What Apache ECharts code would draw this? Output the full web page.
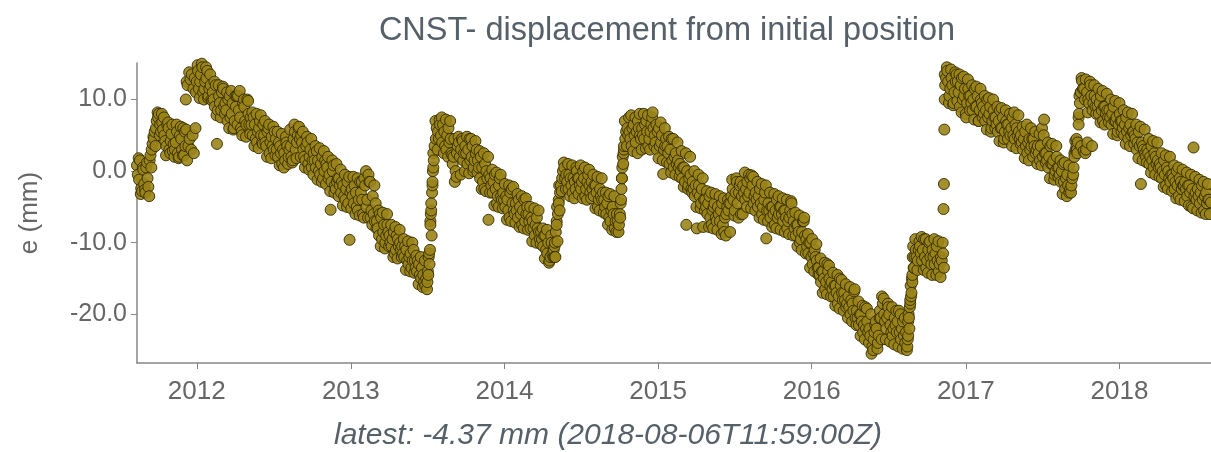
<!DOCTYPE html>
<html><head><meta charset="utf-8">
<script src="https://cdn.jsdelivr.net/npm/echarts@6/dist/echarts.min.js"></script>
<style>html,body{margin:0;padding:0;background:#fff;}#chart{width:1211px;height:452px;}</style>
</head><body><div id="chart"></div>
<script>
const titleText = 'CNST- displacement from initial position';
const yAxisName = 'e (mm)';
const seriesName = 'e';
// regular samples: one value every 5 days (6 values per row ~ 1 month), three interleaved runs
const firstSampleA = [2011, 7, 12];
const firstSampleB = [2011, 7, 14];
const firstSampleC = [2011, 7, 16];
const stepDays = 5;
const eValuesA = [
  0.8, -1.2, -2.4, 0.2, -3.0, -1.0,
  1.5, 3.0, 4.5, 6.0, 7.5, 6.5,
  6.8, 5.0, 3.5, 6.0, 4.2, 2.8,
  3.0, 5.5, 2.0, 4.5, 6.0, 3.5,
  12.0, 4.5, 13.5, 2.5, 11.0, 14.0,
  12.5, 14.5, 11.5, 13.0, 10.5, 12.0,
  11.0, 9.0, 3.8, 10.5, 8.5, 11.5,
  9.5, 7.0, 10.5, 8.0, 6.0, 9.0,
  10.5, 7.5, 5.0, 9.0, 6.5, 8.0,
  7.5, 5.0, 6.5, 4.0, 6.0, 5.0,
  6.5, 4.0, 5.5, 2.5, 4.8, 3.0,
  4.5, 2.0, 3.5, 1.0, 2.5, 4.0,
  2.0, 3.5, 1.5, 5.5, 4.0, 6.2,
  5.0, 3.0, 1.5, 4.0, 2.0, 0.5,
  2.5, 0.5, 1.5, -0.5, 2.0, 0.0,
  1.0, -1.0, -5.4, 0.0, -2.0, -1.5,
  -1.0, -3.0, -2.0, -4.0, -1.5, -9.6,
  -2.5, -4.5, -3.0, -5.5, -1.5, -4.0,
  -1.0, -5.0, -0.5, -6.5, -3.5, -7.0,
  -7.0, -9.0, -6.5, -8.5, -10.0, -7.5,
  -9.0, -10.5, -8.5, -11.0, -9.5, -10.0,
  -10.5, -12.0, -11.0, -13.0, -11.5, -12.5,
  -12.5, -14.0, -13.0, -15.0, -14.5, -16.0,
  -15.5, -13.0, -9.0, 1.5, 4.5, 5.5,
  6.5, 4.0, 5.5, 3.0, 6.0, 4.5,
  1.0, -1.5, 2.5, 4.0, 3.0, 1.5,
  3.5, 1.0, 4.5, 2.0, 0.5, 2.5,
  1.5, -1.0, 0.5, -2.5, 0.0, -6.8,
  -1.0, -3.0, -0.5, -4.5, -2.0, -3.5,
  -3.0, -5.0, -4.0, -6.5, -2.5, -5.5,
  -4.5, -6.5, -5.0, -7.5, -4.0, -6.0,
  -6.0, -8.0, -7.0, -9.0, -6.5, -8.5,
  -8.5, -10.5, -9.0, -11.5, -12.5, -10.0,
  -11.0, -8.5, -6.0, -3.0, -1.0, 0.5,
  -0.5, -2.5, -1.0, -3.0, -1.5, 0.0,
  -1.0, -2.5, 0.0, -3.5, -1.5, -2.0,
  -1.5, -3.5, -2.0, -5.0, -2.5, -4.0,
  -4.0, -6.0, -3.5, -7.0, -5.0, -8.0,
  -6.0, -7.5, -4.0, 1.0, 4.5, 6.0,
  5.5, 3.5, 6.5, 4.0, 7.0, 5.0,
  6.0, 4.5, 7.0, 3.5, 5.5, 8.2,
  5.0, 3.0, 6.0, 4.0, -0.4, 3.5,
  3.5, 1.0, 4.5, 0.5, 2.5, 1.5,
  1.0, -1.0, 0.5, -7.5, -2.0, -0.5,
  -1.5, -3.5, -8.0, -2.0, -4.5, -7.8,
  -4.0, -6.0, -3.5, -7.5, -5.0, -6.5,
  -5.0, -7.0, -4.5, -8.5, -6.0, -5.5,
  -4.5, -2.5, -5.5, -1.5, -3.0, -6.0,
  -2.0, -4.0, -1.5, -3.0, -0.6, -4.5,
  -3.0, -5.0, -2.5, -6.0, -4.0, -9.4,
  -4.5, -6.5, -5.0, -7.5, -4.0, -6.0,
  -5.0, -7.0, -5.5, -8.0, -6.5, -4.5,
  -7.0, -9.0, -7.5, -10.0, -8.5, -6.5,
  -9.5, -11.5, -10.0, -13.0, -11.0, -12.5,
  -13.5, -15.5, -14.0, -16.5, -13.0, -15.0,
  -15.5, -17.5, -16.0, -18.5, -15.0, -17.0,
  -17.0, -19.0, -17.5, -20.0, -18.5, -16.5,
  -19.5, -21.5, -20.0, -22.5, -19.0, -21.0,
  -22.0, -25.5, -23.5, -21.0, -24.0, -19.5,
  -17.5, -20.0, -22.0, -19.0, -21.5, -23.0,
  -20.5, -22.5, -19.5, -23.5, -21.0, -24.0,
  -24.5, -22.0, -17.0, -13.5, -11.0, -12.5,
  -10.5, -12.5, -9.5, -13.5, -11.0, -12.0,
  -11.0, -13.0, -10.5, -14.0, -12.0, -11.5,
  12.0, 14.0, 10.5, 13.0, 9.5, 12.5,
  12.5, 9.0, 13.0, 10.5, 7.5, 11.5,
  10.5, 8.5, 11.5, 9.0, 7.0, 10.0,
  9.0, 7.0, 10.0, 8.0, 6.0, 8.5,
  7.5, 5.5, 8.5, 6.0, 4.5, 7.0,
  6.5, 5.0, 7.5, 4.5, 6.0, 5.5,
  5.0, 3.0, 5.5, 2.5, 4.5, 3.5,
  4.5, 2.5, 3.5, 1.5, 6.0, 7.2,
  2.5, 0.5, 3.5, 1.0, -0.5, 2.0,
  0.5, -1.5, 1.0, -2.5, -0.5, -3.0,
  -2.0, 0.5, 3.0, 4.0, 9.5, 12.6,
  11.5, 3.0, 10.0, 12.0, 8.5, 10.5,
  10.0, 8.0, 10.5, 7.0, 9.0, 8.5,
  8.5, 6.5, 9.0, 7.0, 5.5, 8.0,
  7.0, 5.0, 7.5, 4.5, 6.5, 5.5,
  5.0, 3.0, 5.5, -1.8, 3.5, 2.5,
  3.0, 1.0, 3.5, 0.5, 2.0, 1.5,
  1.0, -1.0, 1.5, -2.0, 0.0, -1.5,
  -0.5, -2.5, 0.0, -3.5, -1.5, -2.0,
  -1.5, -3.5, -2.0, -5.0, 3.3, -3.0,
  -2.5, -4.5, -2.0, -5.5, -3.0, -4.0
];
const eValuesB = [
  -0.5, 1.5, -2.8, -1.8, 0.5, -2.2,
  2.2, 3.8, 5.5, 7.0, 8.0, 5.5,
  5.8, 4.2, 6.5, 3.0, 5.2, 3.8,
  4.0, 2.5, 5.0, 3.0, 2.2, 5.8,
  3.5, 12.8, 5.0, 13.0, 12.5, 11.5,
  13.5, 11.0, 12.5, 14.0, 11.5, 10.0,
  10.0, 12.0, 8.5, 9.5, 11.0, 9.0,
  8.5, 10.0, 7.5, 9.5, 7.0, 10.5,
  8.5, 6.0, 9.5, 7.0, 10.0, 6.5,
  6.5, 7.5, 4.5, 5.5, 7.0, 4.0,
  5.0, 3.5, 6.0, 4.0, 3.5, 5.5,
  3.0, 4.0, 2.5, 3.0, 1.5, 3.5,
  3.0, 2.0, 4.5, 3.0, 5.0, 4.5,
  4.0, 2.0, 3.5, 1.0, 3.0, 1.5,
  1.5, 2.8, 0.0, 1.0, -1.0, 1.5,
  0.5, -0.5, -1.5, 0.8, -2.5, -1.0,
  -2.0, -1.5, -3.5, -2.5, -4.5, -3.0,
  -3.5, -2.0, -5.0, -4.0, -3.0, -6.0,
  -2.0, -4.0, -1.5, -5.5, -6.0, -4.5,
  -8.0, -6.0, -9.5, -7.5, -9.0, -8.5,
  -10.0, -9.5, -11.5, -9.0, -10.5, -11.0,
  -11.5, -10.5, -12.5, -12.0, -13.5, -11.0,
  -13.5, -12.5, -14.5, -13.5, -15.5, -15.0,
  -14.5, -7.0, -2.0, 3.5, 6.0, 4.5,
  5.0, 6.5, 3.5, 5.0, 4.0, 2.5,
  2.0, 0.0, 3.5, 2.0, 4.5, 2.5,
  2.5, 3.0, 1.5, 3.5, 1.5, 3.0,
  0.5, 2.0, -1.5, 1.0, -1.0, -0.5,
  -2.0, -1.5, -2.5, -3.5, -1.0, -4.0,
  -4.0, -3.5, -5.5, -3.0, -4.5, -6.0,
  -5.5, -4.0, -6.0, -5.5, -7.0, -5.0,
  -7.0, -6.5, -8.0, -7.5, -8.0, -9.5,
  -9.5, -9.0, -11.0, -10.0, -12.0, -11.5,
  -10.5, -7.0, -4.0, -2.0, 0.0, -1.0,
  -1.5, -0.5, -2.0, -1.0, -2.5, -1.0,
  -2.0, -1.5, -1.0, -2.5, -0.5, -3.0,
  -2.5, -2.0, -3.0, -4.0, -3.5, -3.0,
  -5.0, -4.5, -6.5, -5.5, -6.0, -7.0,
  -7.0, -6.0, -1.0, 3.0, 5.5, 5.0,
  4.5, 6.0, 5.0, 5.5, 6.0, 4.5,
  5.0, 6.5, 5.5, 4.5, 6.5, 6.0,
  4.0, 5.5, 3.5, 5.0, 3.0, 4.5,
  2.5, 3.0, 1.5, 2.0, 1.0, 0.5,
  0.0, 0.5, -1.5, 0.0, -1.0, -2.5,
  -2.5, -2.0, -3.0, -3.5, -2.5, -4.0,
  -5.0, -4.5, -6.5, -5.5, -4.5, -7.0,
  -6.0, -5.5, -7.5, -6.5, -5.0, -4.5,
  -3.5, -4.0, -3.0, -4.5, -2.0, -3.5,
  -3.0, -2.5, -3.5, -1.0, -2.0, -3.5,
  -4.0, -3.5, -4.5, -5.0, -3.0, -5.5,
  -5.5, -5.0, -6.0, -5.5, -6.5, -5.0,
  -6.0, -5.5, -6.5, -7.0, -5.5, -6.0,
  -8.0, -7.5, -8.5, -9.5, -7.0, -9.0,
  -10.5, -10.0, -12.0, -11.5, -12.0, -13.5,
  -14.5, -14.0, -15.0, -15.5, -14.0, -16.0,
  -16.5, -16.0, -17.0, -17.5, -16.0, -18.0,
  -18.0, -18.5, -19.0, -18.0, -19.5, -20.5,
  -20.5, -20.0, -21.0, -21.5, -22.0, -22.5,
  -23.0, -24.5, -22.5, -22.0, -23.0, -20.5,
  -18.5, -21.0, -20.5, -20.0, -22.5, -22.0,
  -21.5, -21.0, -22.5, -22.0, -23.0, -22.5,
  -23.0, -18.5, -15.5, -12.0, -12.0, -11.0,
  -11.5, -11.0, -12.0, -12.5, -10.0, -13.0,
  -12.0, -11.5, -12.5, -13.0, -12.5, -13.5,
  13.0, 12.5, 11.5, 12.0, 11.0, 13.5,
  11.0, 12.0, 10.0, 11.5, 9.5, 10.5,
  9.5, 10.0, 9.0, 10.5, 8.5, 9.5,
  8.0, 8.5, 7.5, 9.0, 7.0, 7.5,
  6.5, 7.0, 6.0, 7.5, 5.5, 6.5,
  5.5, 6.0, 5.0, 6.5, 5.0, 4.5,
  4.0, 4.5, 3.5, 4.0, 3.0, 4.5,
  3.5, 3.0, 2.5, 3.5, 2.0, 2.5,
  1.5, 2.0, 1.0, 1.5, 0.0, 0.5,
  -0.5, 0.0, -1.5, -1.0, -2.0, -2.5,
  -1.0, 2.5, 3.5, 7.5, 11.0, 11.5,
  10.0, 11.0, 9.5, 10.5, 9.5, 9.0,
  9.0, 9.5, 8.5, 9.0, 8.0, 7.5,
  7.5, 8.0, 7.0, 7.5, 6.5, 7.0,
  6.0, 6.5, 5.5, 6.0, 5.0, 5.5,
  4.5, 4.0, 3.5, 4.0, 3.0, 2.0,
  2.5, 2.0, 1.5, 2.5, 1.0, 0.5,
  0.5, 0.0, -0.5, 0.5, -1.0, -0.5,
  -1.0, -1.5, -2.0, -1.0, -2.5, -2.0,
  -2.5, -2.0, -3.0, -2.5, -3.5, -4.0,
  -3.5, -3.0, -4.0, -3.5, -4.5, -4.0
];
const eValuesC = [
  1.8, -3.2, 0.5, -2.6, 1.2, -3.5,
  0.5, 4.8, 3.5, 8.2, 5.0, 8.0,
  7.5, 2.2, 6.8, 2.5, 6.5, 2.0,
  6.5, 1.8, 6.2, 2.2, 5.5, 1.5,
  13.8, 3.0, 11.5, 6.0, 14.8, 10.2,
  15.0, 10.0, 14.5, 10.2, 13.5, 9.8,
  12.5, 7.8, 12.0, 7.5, 11.8, 8.0,
  11.0, 6.0, 11.2, 5.8, 10.5, 6.5,
  11.2, 5.5, 10.0, 4.8, 9.8, 5.2,
  8.2, 3.5, 8.0, 3.2, 7.8, 3.8,
  7.0, 2.0, 6.5, 1.8, 6.2, 2.2,
  5.5, 0.8, 5.2, 0.5, 4.8, 1.0,
  5.8, 1.2, 6.5, 1.8, 6.0, 2.0,
  5.5, 0.5, 4.8, 0.2, 4.5, -0.5,
  3.5, -1.2, 3.2, -1.5, 2.8, -1.8,
  2.0, -2.8, 1.5, -3.0, 1.0, -3.5,
  0.2, -4.8, -0.5, -5.0, -0.8, -5.2,
  -0.8, -6.0, -1.0, -6.2, -1.5, -6.5,
  0.0, -6.5, -1.5, -7.5, -2.0, -8.0,
  -5.5, -10.5, -5.8, -10.8, -6.0, -10.5,
  -7.5, -12.0, -7.8, -12.2, -8.2, -12.0,
  -9.5, -13.8, -9.8, -14.0, -10.0, -14.2,
  -11.8, -15.8, -12.0, -16.2, -12.5, -16.5,
  -11.5, -5.5, 0.5, 7.0, 3.0, 7.2,
  7.5, 2.5, 7.2, 2.0, 7.0, 2.2,
  4.5, -0.8, 4.8, -0.5, 4.2, 0.0,
  4.8, -0.3, 4.5, 0.0, 4.2, -0.2,
  2.8, -2.5, 2.5, -2.8, 2.0, -3.0,
  0.2, -4.8, -0.2, -5.0, -0.5, -5.2,
  -1.8, -6.8, -2.0, -7.0, -2.2, -7.2,
  -3.2, -7.8, -3.5, -8.0, -3.8, -8.2,
  -5.0, -9.8, -5.2, -10.0, -5.5, -10.2,
  -8.0, -12.2, -8.2, -12.8, -9.0, -12.0,
  -12.0, -9.8, -5.5, -2.8, 1.2, -2.5,
  1.0, -3.5, 0.8, -3.8, 0.5, -3.2,
  0.8, -3.8, 0.5, -4.0, 0.2, -3.8,
  -0.5, -5.2, -0.8, -5.5, -1.0, -5.8,
  -3.0, -7.5, -3.2, -8.2, -3.5, -8.5,
  -8.5, -4.5, 2.0, 7.0, 3.5, 7.5,
  7.8, 2.8, 7.5, 2.5, 8.0, 3.0,
  8.0, 3.2, 7.8, 3.0, 7.5, 3.5,
  6.5, 1.8, 6.8, 1.5, 6.0, 1.2,
  4.8, -0.2, 4.5, -0.5, 4.0, -0.8,
  2.8, -2.2, 2.5, -2.5, 2.0, -3.0,
  0.0, -5.0, -0.5, -5.2, -1.0, -5.5,
  -2.8, -7.8, -3.0, -8.0, -3.2, -8.2,
  -3.5, -8.8, -3.8, -9.0, -4.0, -8.5,
  -1.2, -6.2, -1.0, -6.5, -1.5, -6.0,
  -0.2, -5.0, -0.5, -5.2, -0.8, -5.5,
  -1.5, -6.5, -1.8, -6.8, -2.0, -7.0,
  -3.0, -7.8, -3.2, -8.0, -3.5, -8.2,
  -3.8, -8.5, -4.0, -8.8, -4.2, -9.0,
  -5.8, -10.5, -6.2, -11.0, -7.0, -11.5,
  -8.8, -13.5, -9.5, -14.0, -10.2, -14.5,
  -12.2, -17.0, -12.8, -17.2, -13.2, -17.5,
  -14.2, -18.8, -14.5, -19.2, -15.2, -19.5,
  -15.8, -20.5, -16.2, -21.0, -16.8, -21.5,
  -18.2, -23.0, -18.8, -23.5, -19.2, -24.0,
  -20.0, -25.0, -21.5, -24.8, -20.5, -23.5,
  -17.8, -23.5, -18.5, -23.8, -19.0, -24.2,
  -19.5, -24.5, -20.0, -24.8, -20.5, -25.0,
  -20.5, -17.5, -10.5, -9.5, -13.8, -9.8,
  -9.2, -13.8, -9.5, -14.2, -9.8, -14.5,
  -9.5, -14.5, -9.8, -14.8, -10.0, 13.5,
  14.5, 9.5, 14.2, 9.2, 13.8, 9.8,
  13.5, 8.2, 13.2, 8.0, 12.8, 8.5,
  12.0, 7.2, 11.8, 7.0, 11.5, 7.5,
  10.5, 5.8, 10.2, 5.5, 10.0, 6.0,
  9.0, 4.2, 8.8, 4.0, 8.5, 4.5,
  8.0, 3.5, 8.2, 3.2, 7.8, 3.8,
  6.2, 1.8, 6.5, 1.5, 6.0, 2.0,
  5.5, 1.0, 5.2, 0.8, 5.0, 1.2,
  4.0, -1.0, 3.8, -1.2, 3.5, -0.8,
  1.5, -3.2, 1.2, -3.5, 0.8, -3.0,
  -0.5, 4.2, 2.5, 10.5, 13.0, 2.8,
  12.8, 8.2, 12.5, 3.5, 12.0, 8.0,
  11.5, 6.8, 11.2, 6.5, 10.8, 6.8,
  10.0, 5.2, 9.8, 5.0, 9.5, 5.5,
  8.5, 3.8, 8.2, 3.5, 8.0, 3.8,
  6.5, 1.8, 6.2, 1.5, 5.8, 1.2,
  4.5, -0.2, 4.2, -0.5, 4.0, -0.8,
  2.5, -2.2, 2.2, -2.5, 2.0, -2.8,
  0.8, -3.8, 0.5, -4.0, 0.2, -4.2,
  -0.2, -4.8, -0.5, -5.2, -0.8, -5.5,
  -1.2, -5.8, -1.5, -6.0, -1.8, -6.0
];
// extra samples during the fast offsets
const extraDates = [
  '2011-12-06', '2011-12-08',
  '2013-07-03', '2013-07-05', '2013-07-08', '2013-07-09', '2013-07-10', '2013-07-11', '2013-07-13', '2013-07-14', '2013-07-15', '2013-07-16',
  '2014-04-30', '2014-05-01', '2014-05-05', '2014-05-06', '2014-05-10', '2014-05-11',
  '2014-10-03', '2014-10-06', '2014-10-07', '2014-10-08', '2014-10-11', '2014-10-12',
  '2016-08-16', '2016-08-17', '2016-08-18', '2016-08-21', '2016-08-22', '2016-08-23', '2016-08-26', '2016-08-27', '2016-08-28', '2016-08-31',
  '2016-11-09', '2016-11-10', '2016-11-11', '2016-11-12',
  '2017-09-16', '2017-09-21', '2017-09-22', '2017-09-26', '2017-09-27', '2017-10-01', '2017-10-02', '2017-10-12', '2017-10-17'
];
const extraValues = [
  10.0, 12.5,
  -14.0, -12.0, -11.0, -7.5, -6.0, -4.5, -3.0, -1.5, 0.0, 2.5,
  -12.0, -10.0, -7.5, -5.0, -4.5, -2.0,
  -6.5, -2.5, -1.0, 0.5, 2.5, 3.5,
  -23.5, -21.0, -20.0, -19.0, -18.0, -16.0, -15.0, -14.5, -12.0, -13.5,
  -5.3, -1.8, 5.8, 10.0,
  2.0, 4.5, 3.0, 6.5, 8.0, 11.0, 3.5, 2.5, 4.0
];
const latestDate = '2018-08-06T11:59:00Z';
const latestValue = -4.37;
const yTickValues = [-20, -10, 0, 10];
const yearTicks = [2012, 2013, 2014, 2015, 2016, 2017, 2018];

const points = [];
[[firstSampleA, eValuesA], [firstSampleB, eValuesB], [firstSampleC, eValuesC]].forEach(([s, vals]) => {
  vals.forEach((v, i) => points.push([new Date(s[0], s[1], s[2] + stepDays * i).getTime(), v]));
});
extraDates.forEach((d, i) => {
  const p = d.split('-').map(Number);
  points.push([new Date(p[0], p[1] - 1, p[2]).getTime(), extraValues[i]]);
});
points.push([new Date(latestDate).getTime(), latestValue]);
points.sort((a, b) => a[0] - b[0]);
const yearStarts = yearTicks.map(y => new Date(y, 0, 1).getTime());

const font = "'Liberation Sans', Arial, sans-serif";
const chart = echarts.init(document.getElementById('chart'), null, {renderer: 'canvas'});
chart.setOption({
  animation: false,
  backgroundColor: '#ffffff',
  grid: {left: 137, right: -2, top: 63, bottom: 89, containLabel: false},
  xAxis: {
    type: 'value',
    scale: true,
    min: new Date(firstSampleA[0], firstSampleA[1], firstSampleA[2]).getTime(),
    max: new Date(latestDate).getTime(),
    axisLine: {show: true, onZero: false, lineStyle: {color: '#868686', width: 1.5}},
    axisTick: {show: true, length: 6, lineStyle: {color: '#868686'}, customValues: yearStarts},
    axisLabel: {
      customValues: yearStarts,
      formatter: v => String(new Date(v).getFullYear()),
      fontSize: 26, color: '#666', fontFamily: font, margin: 16
    },
    splitLine: {show: false}
  },
  yAxis: {
    type: 'value',
    min: -26.8, max: 15.1,
    name: yAxisName, nameLocation: 'middle', nameGap: 94, nameRotate: 90,
    nameTextStyle: {fontSize: 26, color: '#666', fontFamily: font},
    axisLine: {show: true, lineStyle: {color: '#868686', width: 1.5}},
    axisTick: {show: true, length: 6, lineStyle: {color: '#868686'}, customValues: yTickValues},
    axisLabel: {customValues: yTickValues, formatter: v => v.toFixed(1), fontSize: 25, color: '#666', fontFamily: font, margin: 10},
    splitLine: {show: false}
  },
  graphic: [
    {type: 'text', x: 667, y: 31, style: {text: titleText, textAlign: 'center', textVerticalAlign: 'middle', fontSize: 32.5, fill: '#566069', fontFamily: font}},
    {type: 'text', x: 608, y: 436, style: {text: `latest: ${latestValue.toFixed(2)} mm (${latestDate})`, textAlign: 'center', textVerticalAlign: 'middle', fontSize: 30, fontStyle: 'italic', fill: '#566069', fontFamily: font}}
  ],
  series: [{
    name: seriesName,
    type: 'scatter',
    data: points,
    symbol: 'circle',
    symbolSize: 11,
    clip: false,
    itemStyle: {color: '#9a8417', borderColor: '#342b00', borderWidth: 1, opacity: 0.9}
  }]
});
</script>
</body></html>
